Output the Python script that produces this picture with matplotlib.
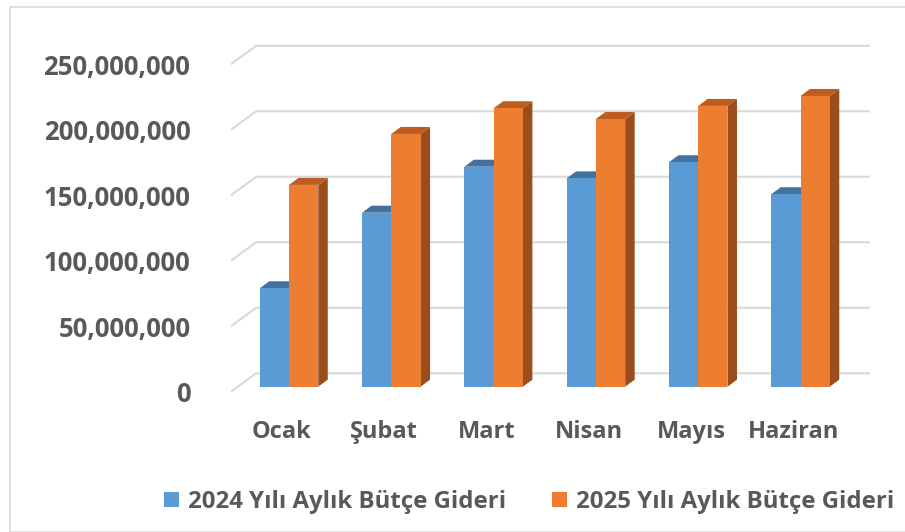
import matplotlib
matplotlib.use("Agg")
import matplotlib.pyplot as plt
from matplotlib.patches import Polygon, Patch, Rectangle
from matplotlib.ticker import FuncFormatter

# veriler
aylar = ["Ocak", "Şubat", "Mart", "Nisan", "Mayıs", "Haziran"]
gider_2024 = [75.1e6, 132.8e6, 167.9e6, 159.0e6, 171.3e6, 146.9e6]
gider_2025 = [154.0e6, 192.9e6, 212.5e6, 204.3e6, 214.3e6, 221.9e6]
seriler = ["2024 Yılı Aylık Bütçe Gideri", "2025 Yılı Aylık Bütçe Gideri"]
yticks = [0, 50e6, 100e6, 150e6, 200e6, 250e6]

plt.rcParams['font.family'] = ['Open Sans', 'DejaVu Sans']
plt.rcParams['font.weight'] = 'bold'
yazi = '#595959'
izgara = '#D9D9D9'
renkler = [('#5B9BD5', '#41719C', '#3A6690'), ('#ED7D31', '#BE5B1E', '#9A4E1D')]

# 3b goruntu icin kaydirmalar (veri birimi)
dxw, dyw = 0.249, 14.27e6     # duvar derinligi
dxb, dyb = 0.070, 4.05e6      # cubuk on yuzu
dxd, dyd = 0.093, 5.34e6      # cubuk derinligi
gen = 0.286

fig = plt.figure(figsize=(9.05, 5.32), dpi=100)
fig.patches.append(Rectangle((10/905, 0), 1.0, 1 - 7/532, transform=fig.transFigure,
                             fill=False, edgecolor=izgara, linewidth=1.2))
ax = fig.add_axes([0.2549, 0.2632, 0.7064, 0.6617])
ax.set_xlim(-0.5, 5.749)
ax.set_ylim(0, 268.7e6)
for s in ax.spines.values():
    s.set_visible(False)
ax.patch.set_visible(False)

# arka duvar izgara cizgileri
for v in yticks:
    ax.plot([-0.5, -0.5 + dxw, 5.749], [v, v + dyw, v + dyw], color=izgara, lw=1.5,
            zorder=1, solid_capstyle='butt')

for i, ay in enumerate(aylar):
    m = i + dxb
    for k, deger in enumerate([gider_2024[i], gider_2025[i]]):
        on, ust, yan = renkler[k]
        x0 = m - gen + k * gen
        x1 = x0 + gen
        y0 = dyb
        y1 = dyb + deger
        ax.add_patch(Polygon([(x1, y0), (x1 + dxd, y0 + dyd), (x1 + dxd, y1 + dyd), (x1, y1)],
                             closed=True, facecolor=yan, edgecolor='none', zorder=2))
        ax.add_patch(Polygon([(x0, y1), (x0 + dxd, y1 + dyd), (x1 + dxd, y1 + dyd), (x1, y1)],
                             closed=True, facecolor=ust, edgecolor='none', zorder=2))
        ax.bar(x0, deger, width=gen, bottom=y0, align='edge', color=on, zorder=3)

ax.set_yticks(yticks)
ax.yaxis.set_major_formatter(FuncFormatter(lambda v, p: f"{v:,.0f}"))
ax.set_xticks(range(len(aylar)))
ax.set_xticklabels(aylar)
ax.tick_params(axis='y', length=0, pad=29, labelsize=18.5, labelcolor=yazi)
ax.tick_params(axis='x', length=0, pad=20, labelsize=17, labelcolor=yazi)

el = [Patch(facecolor=renkler[0][0]), Patch(facecolor=renkler[1][0])]
fig.legend(el, seriler, loc='center', bbox_to_anchor=(0.585, 1 - 502/532), ncol=2,
           frameon=False, fontsize=17.3, labelcolor=yazi, handlelength=0.6, handleheight=0.6,
           handletextpad=0.4, columnspacing=1.9)

fig.savefig("out.png", dpi=100)
